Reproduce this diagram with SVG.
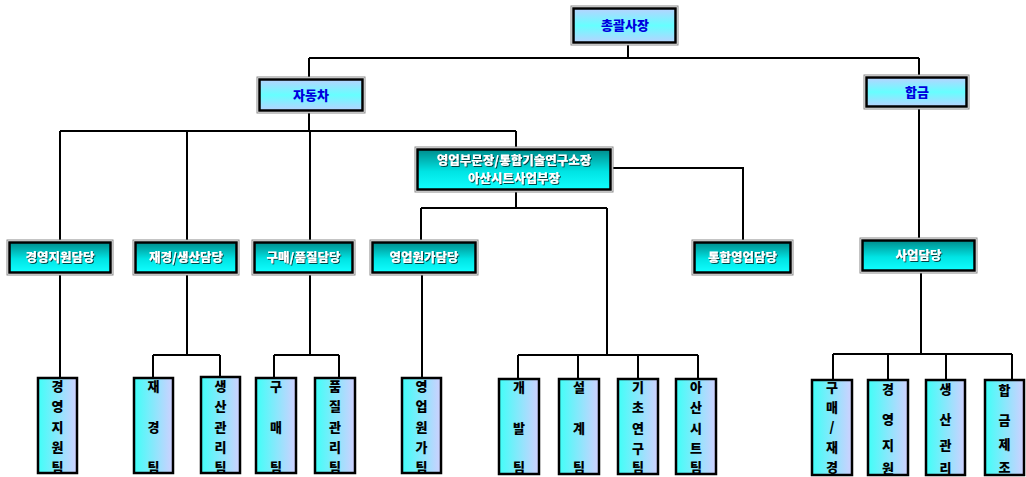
<svg xmlns="http://www.w3.org/2000/svg" width="1026" height="477" viewBox="0 0 1026 477">
<defs>
<linearGradient id="gTop" x1="0" y1="0" x2="0" y2="1">
<stop offset="0" stop-color="#b8d2ff"/><stop offset="0.5" stop-color="#66ffff"/><stop offset="1" stop-color="#b8d2ff"/>
</linearGradient>
<linearGradient id="gMid" x1="0" y1="0" x2="0" y2="1">
<stop offset="0" stop-color="#008c8c"/><stop offset="0.55" stop-color="#00e4e4"/><stop offset="1" stop-color="#10ffff"/>
</linearGradient>
<linearGradient id="gLeaf" x1="0" y1="0" x2="1" y2="0">
<stop offset="0" stop-color="#40fff8"/><stop offset="1" stop-color="#d0d0ff"/>
</linearGradient>
<filter id="sh" x="-10%" y="-30%" width="120%" height="160%">
<feDropShadow dx="1" dy="1" stdDeviation="0.3" flood-color="#003030" flood-opacity="0.9"/>
</filter>
</defs>
<style>
.outer{fill:none;stroke:#8a8a8a;stroke-width:1}
.top{fill:url(#gTop);stroke:#000;stroke-width:2.5}
.mid{fill:url(#gMid);stroke:#000;stroke-width:2.5}
.leaf{fill:url(#gLeaf);stroke:#000;stroke-width:2.5}
.tt{font-family:"Noto Sans CJK KR","Noto Sans",sans-serif;font-weight:900;font-size:13px;fill:#0000dd;text-anchor:middle}
.mt{font-family:"Noto Sans CJK KR","Noto Sans",sans-serif;font-weight:900;font-size:12.5px;fill:#fff;text-anchor:middle;filter:url(#sh)}
.lt{font-family:"Noto Sans CJK KR","Noto Sans",sans-serif;font-weight:900;font-size:13px;fill:#000;text-anchor:middle}
.ln{fill:none;stroke:#000;stroke-width:2}
</style>
<rect width="1026" height="477" fill="#fff"/>
<g id="connectors" class="ln">
<path d="M628,45V58M309,58H919M309,58V77M919,58V75"/>
<path d="M309,113V131M60,131H516M60,131V240M187,131V240M310,131V240M516,131V147"/>
<path d="M613,168H743V240"/>
<path d="M516,192V208M421,208H607M421,208V240M607,208V355"/>
<path d="M919,109V238"/>
<path d="M60,275V378M187,275V355M153,355H220M153,355V378M220,355V377"/>
<path d="M310,275V355M274,355H339M274,355V378M339,355V378M422,275V378"/>
<path d="M518,355H698M518,355V379M578,355V379M638,355V379M698,355V379"/>
<path d="M921,273V354M833,354H1012M833,354V380M888,354V380M946,354V380M1012,354V380"/>
</g>
<g id="n-ceo"><rect class="outer" x="571" y="6" width="107" height="39"/><rect class="top" x="573.5" y="8.5" width="102" height="34"/><text class="tt" x="625" y="30">총괄사장</text></g>
<g id="n-auto"><rect class="outer" x="257" y="77" width="108" height="36"/><rect class="top" x="259.5" y="79.5" width="103" height="31"/><text class="tt" x="311" y="100">자동차</text></g>
<g id="n-alloy"><rect class="outer" x="864" y="75" width="105" height="34"/><rect class="top" x="866.5" y="77.5" width="100" height="29"/><text class="tt" x="917" y="97">합금</text></g>
<g id="n-sales"><rect class="outer" x="415" y="147" width="198" height="45"/><rect class="mid" x="417.5" y="149.5" width="193" height="40"/><text class="mt" x="514" y="165">영업부문장/통합기술연구소장</text><text class="mt" x="514" y="183">아산시트사업부장</text></g>
<g id="n-mgmt"><rect class="outer" x="7" y="240" width="106" height="35"/><rect class="mid" x="9.5" y="242.5" width="101" height="30"/><text class="mt" x="60" y="262">경영지원담당</text></g>
<g id="n-fin"><rect class="outer" x="133" y="240" width="106" height="35"/><rect class="mid" x="135.5" y="242.5" width="101" height="30"/><text class="mt" x="186" y="262">재경/생산담당</text></g>
<g id="n-purch"><rect class="outer" x="252" y="240" width="103" height="35"/><rect class="mid" x="254.5" y="242.5" width="98" height="30"/><text class="mt" x="303.5" y="262">구매/품질담당</text></g>
<g id="n-cost"><rect class="outer" x="370" y="240" width="108" height="35"/><rect class="mid" x="372.5" y="242.5" width="103" height="30"/><text class="mt" x="424" y="262">영업원가담당</text></g>
<g id="n-intsales"><rect class="outer" x="692" y="240" width="101" height="35"/><rect class="mid" x="694.5" y="242.5" width="96" height="30"/><text class="mt" x="742.5" y="262">통합영업담당</text></g>
<g id="n-biz"><rect class="outer" x="860" y="238" width="117" height="35"/><rect class="mid" x="862.5" y="240.5" width="112" height="30"/><text class="mt" x="918.5" y="260">사업담당</text></g>
<g id="l-mgmt"><rect class="leaf" x="38" y="378" width="39" height="95"/><text class="lt"><tspan x="57.5" y="391">경</tspan><tspan x="57.5" y="411">영</tspan><tspan x="57.5" y="432">지</tspan><tspan x="57.5" y="452">원</tspan><tspan x="57.5" y="472">팀</tspan></text></g>
<g id="l-fin"><rect class="leaf" x="134" y="378" width="39" height="95"/><text class="lt"><tspan x="153.5" y="391">재</tspan><tspan x="153.5" y="432">경</tspan><tspan x="153.5" y="472">팀</tspan></text></g>
<g id="l-prod"><rect class="leaf" x="201" y="377" width="39" height="96"/><text class="lt"><tspan x="220.5" y="391">생</tspan><tspan x="220.5" y="411">산</tspan><tspan x="220.5" y="432">관</tspan><tspan x="220.5" y="452">리</tspan><tspan x="220.5" y="472">팀</tspan></text></g>
<g id="l-purch"><rect class="leaf" x="256" y="378" width="40" height="95"/><text class="lt"><tspan x="276" y="391">구</tspan><tspan x="276" y="432">매</tspan><tspan x="276" y="472">팀</tspan></text></g>
<g id="l-qual"><rect class="leaf" x="315" y="378" width="40" height="95"/><text class="lt"><tspan x="335" y="391">품</tspan><tspan x="335" y="411">질</tspan><tspan x="335" y="432">관</tspan><tspan x="335" y="452">리</tspan><tspan x="335" y="472">팀</tspan></text></g>
<g id="l-cost"><rect class="leaf" x="402" y="378" width="39" height="95"/><text class="lt"><tspan x="421.5" y="391">영</tspan><tspan x="421.5" y="411">업</tspan><tspan x="421.5" y="432">원</tspan><tspan x="421.5" y="452">가</tspan><tspan x="421.5" y="472">팀</tspan></text></g>
<g id="l-dev"><rect class="leaf" x="499" y="379" width="40" height="95"/><text class="lt"><tspan x="519" y="392">개</tspan><tspan x="519" y="433">발</tspan><tspan x="519" y="472">팀</tspan></text></g>
<g id="l-design"><rect class="leaf" x="559" y="379" width="40" height="95"/><text class="lt"><tspan x="579" y="392">설</tspan><tspan x="579" y="433">계</tspan><tspan x="579" y="472">팀</tspan></text></g>
<g id="l-research"><rect class="leaf" x="618" y="379" width="40" height="95"/><text class="lt"><tspan x="638" y="392">기</tspan><tspan x="638" y="412">초</tspan><tspan x="638" y="433">연</tspan><tspan x="638" y="453">구</tspan><tspan x="638" y="472">팀</tspan></text></g>
<g id="l-asan"><rect class="leaf" x="676" y="379" width="40" height="95"/><text class="lt"><tspan x="696" y="392">아</tspan><tspan x="696" y="412">산</tspan><tspan x="696" y="433">시</tspan><tspan x="696" y="453">트</tspan><tspan x="696" y="472">팀</tspan></text></g>
<g id="l-pf"><rect class="leaf" x="812" y="380" width="40" height="95"/><text class="lt"><tspan x="832" y="392">구</tspan><tspan x="832" y="412">매</tspan><tspan x="832" y="432">/</tspan><tspan x="832" y="452">재</tspan><tspan x="832" y="472">경</tspan></text></g>
<g id="l-ms"><rect class="leaf" x="868" y="380" width="40" height="95"/><text class="lt"><tspan x="888" y="394">경</tspan><tspan x="888" y="424">영</tspan><tspan x="888" y="450">지</tspan><tspan x="888" y="473">원</tspan></text></g>
<g id="l-pm"><rect class="leaf" x="926" y="380" width="39" height="95"/><text class="lt"><tspan x="945.5" y="394">생</tspan><tspan x="945.5" y="424">산</tspan><tspan x="945.5" y="450">관</tspan><tspan x="945.5" y="473">리</tspan></text></g>
<g id="l-am"><rect class="leaf" x="985" y="380" width="39" height="95"/><text class="lt"><tspan x="1004.5" y="395">합</tspan><tspan x="1004.5" y="425">금</tspan><tspan x="1004.5" y="449">제</tspan><tspan x="1004.5" y="472">조</tspan></text></g>
</svg>
